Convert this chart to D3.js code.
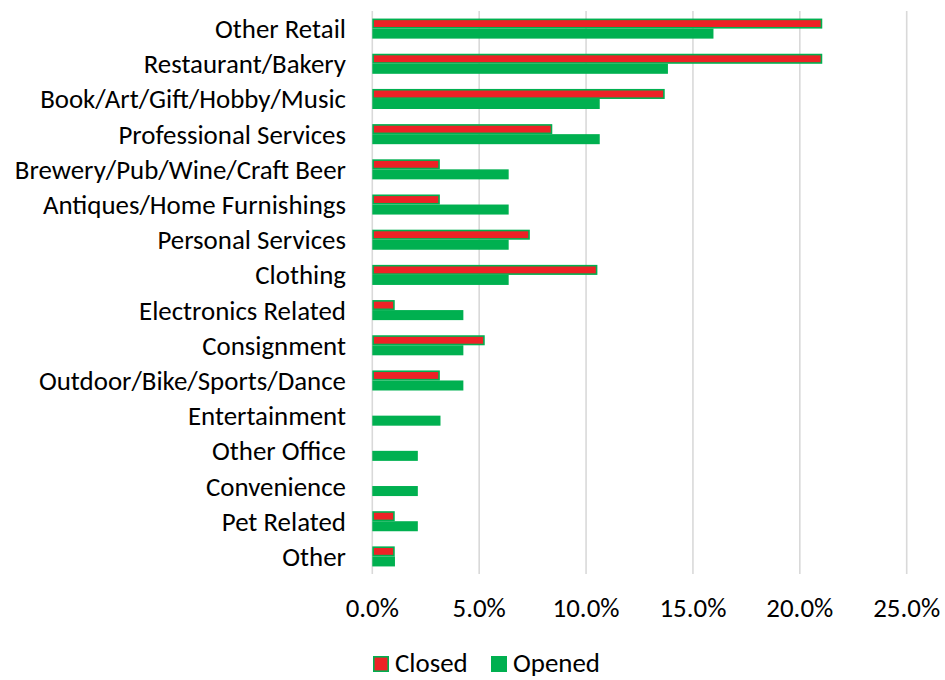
<!DOCTYPE html>
<html>
<head>
<meta charset="utf-8">
<script src="https://cdn.jsdelivr.net/npm/d3@7"></script>
<style>
  html, body { margin: 0; padding: 0; background: #fff; }
  svg { display: block; }
  text { font-family: Carlito, Lato, "Open Sans", sans-serif; fill: #000; }
</style>
</head>
<body>
<svg id="chart" width="945" height="680"></svg>
<script>
// Share of business openings/closings by category (percent)
const categories = [
  "Other Retail", "Restaurant/Bakery", "Book/Art/Gift/Hobby/Music",
  "Professional Services", "Brewery/Pub/Wine/Craft Beer",
  "Antiques/Home Furnishings", "Personal Services", "Clothing",
  "Electronics Related", "Consignment", "Outdoor/Bike/Sports/Dance",
  "Entertainment", "Other Office", "Convenience", "Pet Related", "Other"
];
const closedValues = [21.05, 21.05, 13.68, 8.42, 3.16, 3.16, 7.37, 10.53,
                      1.05, 5.26, 3.16, 0, 0, 0, 1.05, 1.05];
const openedValues = [15.96, 13.83, 10.64, 10.64, 6.38, 6.38, 6.38, 6.38,
                      4.26, 4.26, 4.26, 3.19, 2.13, 2.13, 2.13, 1.06];
const seriesNames = ["Closed", "Opened"];
const tickValues = [0, 5, 10, 15, 20, 25];

const colors = { Closed: "#ED2226", Opened: "#00B050" };
const edge = "#00B050";

const svg = d3.select("#chart");
const plot = { left: 372.3, right: 906.7, top: 11, bottom: 574 };

const x = d3.scaleLinear().domain([0, 25]).range([plot.left, plot.right]);
const y = d3.scaleBand().domain(categories)
  .range([plot.top, plot.bottom]).paddingInner(0.43).paddingOuter(0.215);
const sub = d3.scaleBand().domain(seriesNames).range([0, y.bandwidth()]);

// Font size chosen so the longest category label spans its column
const probe = svg.append("text").style("font-size", "20px")
  .text("Book/Art/Gift/Hobby/Music");
const fs = 20 * 306 / probe.node().getComputedTextLength();
probe.remove();

// Vertical gridlines
svg.append("g").selectAll("line").data(tickValues).join("line")
  .attr("x1", d => x(d)).attr("x2", d => x(d))
  .attr("y1", plot.top).attr("y2", plot.bottom)
  .attr("stroke", "#D9D9D9").attr("stroke-width", 1.6);

// Bars
const rows = categories.map((c, i) => ({
  cat: c,
  vals: [
    { s: "Closed", v: closedValues[i] },
    { s: "Opened", v: openedValues[i] }
  ]
}));
const g = svg.append("g").selectAll("g").data(rows).join("g")
  .attr("transform", d => `translate(0,${y(d.cat)})`);
g.selectAll("rect").data(d => d.vals.filter(e => e.v > 0)).join("rect")
  .attr("x", x(0) + 0.8)
  .attr("y", d => sub(d.s) + 0.8)
  .attr("width", d => Math.max(0, x(d.v) - x(0) - 1.6))
  .attr("height", sub.bandwidth() - 1.6)
  .attr("fill", d => colors[d.s])
  .attr("stroke", edge).attr("stroke-width", 1.6);

// Category labels
svg.append("g").selectAll("text").data(categories).join("text")
  .attr("x", 346)
  .attr("y", d => y(d) + y.bandwidth() / 2)
  .attr("text-anchor", "end")
  .attr("dominant-baseline", "central")
  .style("font-size", fs + "px")
  .text(d => d);

// X axis tick labels
const fmt = d3.format(".1f");
svg.append("g").selectAll("text").data(tickValues).join("text")
  .attr("x", d => x(d))
  .attr("y", 617)
  .attr("text-anchor", "middle")
  .style("font-size", fs + "px")
  .text(d => fmt(d) + "%");

// Legend
const legend = svg.append("g").attr("transform", "translate(373,656)");
const items = [{ s: "Closed", dx: 0 }, { s: "Opened", dx: 118 }];
const li = legend.selectAll("g").data(items).join("g")
  .attr("transform", d => `translate(${d.dx},0)`);
li.append("rect")
  .attr("x", 0.8).attr("y", 0.8).attr("width", 14.4).attr("height", 14.4)
  .attr("fill", d => colors[d.s]).attr("stroke", edge).attr("stroke-width", 1.6);
li.append("text")
  .attr("x", 22).attr("y", 16)
  .style("font-size", fs + "px")
  .text(d => d.s);
</script>
</body>
</html>
